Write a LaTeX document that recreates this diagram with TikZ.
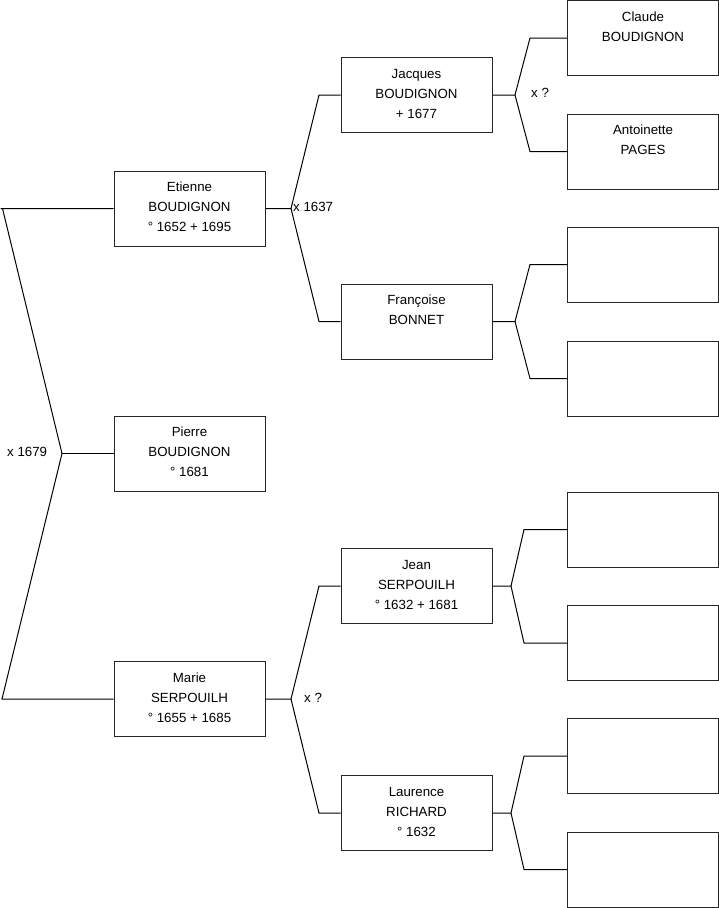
\documentclass[tikz,border=0pt]{standalone}
\usepackage{fontspec}
\setmainfont{Liberation Sans}
\begin{document}
\begin{tikzpicture}[x=1pt,y=-1pt,
  person/.style={draw=black!85, line width=1pt, minimum width=151pt, minimum height=75pt,
    inner sep=0pt, align=center, font=\fontsize{13.3}{20}\selectfont, fill=white},
  link/.style={draw=black, line width=1pt, line join=miter},
  tag/.style={inner sep=0pt, anchor=west, font=\fontsize{13.3}{16}\selectfont}]
\newcommand{\lastl}{\rule[-3pt]{0pt}{3pt}}
\useasboundingbox (0,0) rectangle (719,908);
% column 1
\node[person] (etienne) at (189.5,208.5) {Etienne\\BOUDIGNON\\° 1652 + 1695\lastl};
\node[person] (pierre) at (189.5,453.5) {Pierre\\BOUDIGNON\\° 1681\lastl};
\node[person] (marie) at (189.5,699) {Marie\\SERPOUILH\\° 1655 + 1685\lastl};
% column 2
\node[person] (jacques) at (416.5,95) {Jacques\\BOUDIGNON\\+ 1677\lastl};
\node[person] (francoise) at (416.5,321.5) {Françoise\\BONNET\\\lastl};
\node[person] (jean) at (416.5,586) {Jean\\SERPOUILH\\° 1632 + 1681\lastl};
\node[person] (laurence) at (416.5,813) {Laurence\\RICHARD\\° 1632\lastl};
% column 3
\node[person] (claude) at (643,38) {Claude\\BOUDIGNON\\\lastl};
\node[person] (antoinette) at (643,151.5) {Antoinette\\PAGES\\\lastl};
\node[person] (b3) at (643,264.5) {};
\node[person] (b4) at (643,378.5) {};
\node[person] (b5) at (643,529.5) {};
\node[person] (b6) at (643,643) {};
\node[person] (b7) at (643,756) {};
\node[person] (b8) at (643,869.5) {};
% fork points
\coordinate (ltop) at (0.5,208.5);
\coordinate (lmid) at (62,453.5);
\coordinate (lbot) at (2,699);
\coordinate (fe) at (291,208.5);
\coordinate (fm) at (291,699);
\coordinate (fj) at (515,95);
\coordinate (ff) at (515,321.5);
\coordinate (fn) at (511,586);
\coordinate (fl) at (511,813);
% connectors
\draw[link] (etienne.west) -- (ltop) -- ++(2,0) -- (lmid) -- (lbot) -- (marie.west);
\draw[link] (lmid) -- (pierre.west);
\draw[link] (etienne.east) -- (fe) -- (319,95) -- (jacques.west);
\draw[link] (fe) -- (319,321.5) -- (francoise.west);
\draw[link] (marie.east) -- (fm) -- (319,586) -- (jean.west);
\draw[link] (fm) -- (319,813) -- (laurence.west);
\draw[link] (jacques.east) -- (fj) -- (530,38) -- (claude.west);
\draw[link] (fj) -- (530,151.5) -- (antoinette.west);
\draw[link] (francoise.east) -- (ff) -- (530,264.5) -- (b3.west);
\draw[link] (ff) -- (530,378.5) -- (b4.west);
\draw[link] (jean.east) -- (fn) -- (524,529.5) -- (b5.west);
\draw[link] (fn) -- (524,643) -- (b6.west);
\draw[link] (laurence.east) -- (fl) -- (524,756) -- (b7.west);
\draw[link] (fl) -- (524,869.5) -- (b8.west);
% labels
\node[tag] (m1) at (7,451.5) {x 1679};
\node[tag] (m2) at (293,207) {x 1637};
\node[tag] (m3) at (304,698) {x ?};
\node[tag] (m4) at (531,93) {x ?};
\end{tikzpicture}
\end{document}
